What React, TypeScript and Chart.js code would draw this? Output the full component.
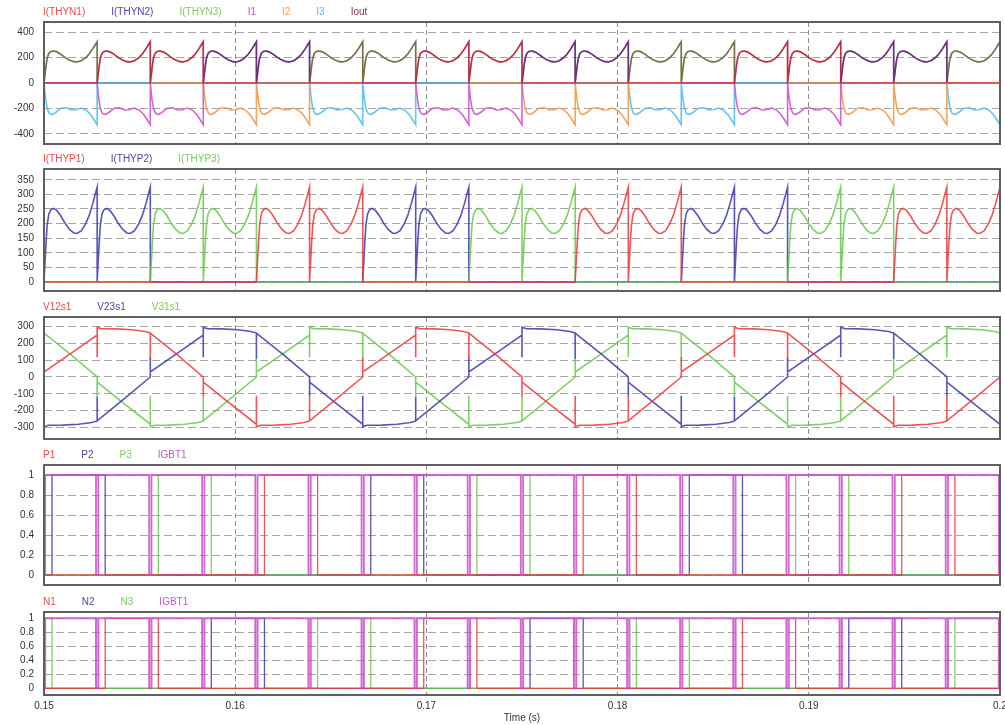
import React, { useEffect, useRef } from "react";
import { Chart, registerables } from "chart.js";

Chart.register(...registerables);

// ---------------- data ----------------
const tStart = 0.15;
const tEnd = 0.2;
const timeTicks = [0.15, 0.16, 0.17, 0.18, 0.19, 0.2];

// commutation instants (s) – edges of the 60° current humps
const commutations = [
  0.15, 0.15278, 0.15556, 0.15833, 0.16111, 0.16389, 0.16667, 0.16944, 0.17222, 0.175,
  0.17778, 0.18056, 0.18333, 0.18611, 0.18889, 0.19167, 0.19444, 0.19722, 0.2,
];

// shape of one positive current hump (fraction of interval -> A)
const humpFrac = [0, 0.02, 0.04, 0.06, 0.09, 0.13, 0.18, 0.24, 0.32, 0.4, 0.48, 0.56, 0.62, 0.7, 0.78, 0.85, 0.92, 0.97, 1];
const humpPos = [0, 70, 140, 195, 232, 248, 252, 245, 225, 200, 180, 168, 166, 175, 198, 228, 270, 305, 325];
// shape of one negative phase-current hump
const negFrac = [0, 0.03, 0.06, 0.1, 0.15, 0.22, 0.32, 0.42, 0.52, 0.6, 0.7, 0.8, 0.88, 0.95, 1];
const humpNeg = [0, -120, -200, -240, -248, -232, -198, -195, -212, -210, -197, -215, -250, -295, -328];
const zeroFrac = [0, 1];
const zeroVal = [0, 0];

// per-interval state: 1 = positive hump, -1 = negative hump, 0 = zero, null = hidden
const thyn1State = [0, 1, 1, 0, 0, 0, 0, 1, 1, 0, 0, 0, 0, 1, 1, 0, 0, 0];
const thyn2State = [0, 0, 0, 1, 1, 0, 0, 0, 0, 1, 1, 0, 0, 0, 0, 1, 1, 0];
const thyn3State = [1, 0, 0, 0, 0, 1, 1, 0, 0, 0, 0, 1, 1, 0, 0, 0, 0, 1];
const i1State = [0, -1, -1, 0, null, null, 0, -1, -1, 0, null, null, 0, -1, -1, 0, null, null];
const i2State = [null, null, 0, -1, -1, 0, null, null, 0, -1, -1, 0, null, null, 0, -1, -1, 0];
const i3State = [-1, 0, null, null, 0, -1, -1, 0, null, null, 0, -1, -1, 0, null, null, 0, -1];
const ioutState = [1, 1, 1, 1, 1, 1, 1, 1, 1, 1, 1, 1, 1, 1, 1, 1, 1, 1];
const thyp1State = [0, 0, 0, 0, 1, 1, 0, 0, 0, 0, 1, 1, 0, 0, 0, 0, 1, 1];
const thyp2State = [1, 1, 0, 0, 0, 0, 1, 1, 0, 0, 0, 0, 1, 1, 0, 0, 0, 0];
const thyp3State = [0, 0, 1, 1, 0, 0, 0, 0, 1, 1, 0, 0, 0, 0, 1, 1, 0, 0];
const thyn1Start = 330;
const thyp1Start = 330;

// one cycle of a line voltage (phase in 60° intervals from the flat-top start -> V)
const vCyclePhase = [0, 0, 0, 0.08, 0.35, 0.65, 0.9, 1, 1, 1, 1.5, 2, 2, 2, 2.5, 3, 3, 3, 3.08, 3.35, 3.65, 3.9, 4, 4, 4, 4.5, 5, 5, 5, 5.5];
const vCycleValue = [250, 118, 297, 288, 287, 282, 272, 262, 110, 262, 135, 0, -118, -30, -158, -282, -112, -297, -288, -287, -282, -272, -262, -118, -262, -132, 0, 118, 30, 140];
// interval index at which each line voltage starts its flat top
const v12FlatTop = 1;
const v23FlatTop = 3;
const v31FlatTop = 5;

// gate pulses [on, off] (s)
const p1Pulses = [[0.16153, 0.16431], [0.1782, 0.18098], [0.19486, 0.19764]];
const p2Pulses = [[0.15042, 0.1532], [0.16709, 0.16986], [0.18375, 0.18653]];
const p3Pulses = [[0.15598, 0.15875], [0.17264, 0.17542], [0.18931, 0.19209]];
const n1Pulses = [[0.1532, 0.15598], [0.16986, 0.17264], [0.18653, 0.18931]];
const n2Pulses = [[0.15875, 0.16153], [0.17542, 0.1782], [0.19209, 0.19486]];
const n3Pulses = [[0.15, 0.15042], [0.16431, 0.16709], [0.18098, 0.18375], [0.19764, 0.2]];
const igbtOffWidth = 0.00012;

const ticksI = [-400, -200, 0, 200, 400];
const ticksThyp = [0, 50, 100, 150, 200, 250, 300, 350];
const ticksV = [-300, -200, -100, 0, 100, 200, 300];
const ticksGate = [0, 0.2, 0.4, 0.6, 0.8, 1];

// ---------------- builders ----------------
type Pt = { x: number; y: number | null };

function humpSeries(states: (number | null)[], startValue?: number): Pt[] {
  const pts: Pt[] = [];
  if (startValue !== undefined) pts.push({ x: commutations[0], y: startValue });
  states.forEach((s, j) => {
    const t0 = commutations[j];
    const dt = commutations[j + 1] - t0;
    if (s === null) {
      pts.push({ x: t0, y: null });
      return;
    }
    const fr = s === 1 ? humpFrac : s === -1 ? negFrac : zeroFrac;
    const vs = s === 1 ? humpPos : s === -1 ? humpNeg : zeroVal;
    fr.forEach((f, k) => pts.push({ x: t0 + f * dt, y: vs[k] }));
  });
  return pts;
}

function voltageSeries(flatTopIndex: number): Pt[] {
  const pts: Pt[] = [];
  const n = commutations.length - 1;
  for (let j = 0; j < n; j++) {
    const p = (((j - flatTopIndex) % 6) + 6) % 6;
    const t0 = commutations[j];
    const dt = commutations[j + 1] - t0;
    vCyclePhase.forEach((ph, i) => {
      if (ph >= p && ph < p + 1) pts.push({ x: t0 + (ph - p) * dt, y: vCycleValue[i] });
    });
  }
  const pEnd = (((n - flatTopIndex) % 6) + 6) % 6;
  const iEnd = vCyclePhase.indexOf(pEnd);
  pts.push({ x: commutations[n], y: vCycleValue[iEnd] });
  return pts;
}

function stepSeries(pulses: number[][], base: number, level: number): Pt[] {
  const pts: Pt[] = [{ x: tStart, y: base }];
  pulses.forEach(([on, off]) => {
    const a = Math.max(tStart, on);
    const b = Math.min(tEnd, off);
    pts.push({ x: a, y: base }, { x: a, y: level }, { x: b, y: level }, { x: b, y: base });
  });
  pts.push({ x: tEnd, y: base });
  return pts;
}

const igbtOff = commutations.map((c) => [c - igbtOffWidth / 2, c + igbtOffWidth / 2]);

// ---------------- styles ----------------
const FONT = "'Liberation Sans', Arial, Helvetica, sans-serif";
const RED = "rgba(235,55,60,0.85)";
const BLUE = "rgba(60,55,175,0.85)";
const GREEN = "rgba(105,200,75,0.85)";
const MAGENTA = "rgba(205,75,200,0.85)";
const ORANGE = "rgba(242,155,75,0.9)";
const CYAN = "rgba(85,190,235,0.9)";
const MAROON = "rgba(130,25,60,0.55)";
const L_RED = "#e84a4a";
const L_BLUE = "#4d46a8";
const L_GREEN = "#7cc95e";
const L_MAGENTA = "#c556c2";
const L_ORANGE = "#ef9f5a";
const L_CYAN = "#5cbbe4";
const L_MAROON = "#8b2d4a";

type DS = { label: string; data: Pt[]; color: string; legendColor: string; order: number; width?: number };
type Panel = { top: number; height: number; showX: boolean; yMin: number; yMax: number; yTicks: number[]; datasets: DS[] };

const panels: Panel[] = [
  {
    top: -14, height: 160, showX: false, yMin: -480, yMax: 480, yTicks: ticksI,
    datasets: [
      { label: "I(THYN1)", data: humpSeries(thyn1State, thyn1Start), color: RED, legendColor: L_RED, order: 1 },
      { label: "I(THYN2)", data: humpSeries(thyn2State), color: BLUE, legendColor: L_BLUE, order: 3 },
      { label: "I(THYN3)", data: humpSeries(thyn3State), color: GREEN, legendColor: L_GREEN, order: 4 },
      { label: "I1", data: humpSeries(i1State), color: MAGENTA, legendColor: L_MAGENTA, order: 2 },
      { label: "I2", data: humpSeries(i2State), color: ORANGE, legendColor: L_ORANGE, order: 2 },
      { label: "I3", data: humpSeries(i3State), color: CYAN, legendColor: L_CYAN, order: 2 },
      { label: "Iout", data: humpSeries(ioutState), color: MAROON, legendColor: L_MAROON, order: 0 },
    ],
  },
  {
    top: 133, height: 160, showX: false, yMin: -31, yMax: 387, yTicks: ticksThyp,
    datasets: [
      { label: "I(THYP1)", data: humpSeries(thyp1State, thyp1Start), color: RED, legendColor: L_RED, order: 0 },
      { label: "I(THYP2)", data: humpSeries(thyp2State), color: BLUE, legendColor: L_BLUE, order: 2 },
      { label: "I(THYP3)", data: humpSeries(thyp3State), color: GREEN, legendColor: L_GREEN, order: 1 },
    ],
  },
  {
    top: 281, height: 160, showX: false, yMin: -370, yMax: 358, yTicks: ticksV,
    datasets: [
      { label: "V12s1", data: voltageSeries(v12FlatTop), color: RED, legendColor: L_RED, order: 0 },
      { label: "V23s1", data: voltageSeries(v23FlatTop), color: BLUE, legendColor: L_BLUE, order: 1 },
      { label: "V31s1", data: voltageSeries(v31FlatTop), color: GREEN, legendColor: L_GREEN, order: 2 },
    ],
  },
  {
    top: 429, height: 158, showX: false, yMin: -0.1, yMax: 1.1, yTicks: ticksGate,
    datasets: [
      { label: "P1", data: stepSeries(p1Pulses, 0, 1), color: RED, legendColor: L_RED, order: 1, width: 1.3 },
      { label: "P2", data: stepSeries(p2Pulses, 0, 1), color: BLUE, legendColor: L_BLUE, order: 3, width: 1.3 },
      { label: "P3", data: stepSeries(p3Pulses, 0, 1), color: GREEN, legendColor: L_GREEN, order: 2, width: 1.3 },
      { label: "IGBT1", data: stepSeries(igbtOff, 1, 0), color: MAGENTA, legendColor: L_MAGENTA, order: 0, width: 1.8 },
    ],
  },
  {
    top: 576, height: 149, showX: true, yMin: -0.095, yMax: 1.09, yTicks: ticksGate,
    datasets: [
      { label: "N1", data: stepSeries(n1Pulses, 0, 1), color: RED, legendColor: L_RED, order: 1, width: 1.3 },
      { label: "N2", data: stepSeries(n2Pulses, 0, 1), color: BLUE, legendColor: L_BLUE, order: 3, width: 1.3 },
      { label: "N3", data: stepSeries(n3Pulses, 0, 1), color: GREEN, legendColor: L_GREEN, order: 2, width: 1.3 },
      { label: "IGBT1", data: stepSeries(igbtOff, 1, 0), color: MAGENTA, legendColor: L_MAGENTA, order: 0, width: 2 },
    ],
  },
];

const LEGEND_SHIFT = 17;

const framePlugin = {
  id: "frame",
  afterLayout(chart: any) {
    if (chart.legend) chart.legend.left += LEGEND_SHIFT;
  },
  afterDatasetsDraw(chart: any) {
    const { ctx, chartArea: a } = chart;
    ctx.save();
    ctx.setLineDash([]);
    ctx.strokeStyle = "#5f5f5f";
    ctx.lineWidth = 2;
    ctx.strokeRect(a.left, a.top, a.right - a.left, a.bottom - a.top);
    ctx.restore();
  },
};

function buildConfig(p: Panel): any {
  return {
    type: "line",
    data: {
      datasets: p.datasets.map((d) => ({
        label: d.label,
        data: d.data,
        borderColor: d.color,
        backgroundColor: d.color,
        borderWidth: d.width ?? 1.6,
        pointRadius: 0,
        tension: 0,
        fill: false,
        spanGaps: false,
        order: d.order,
        legendColor: d.legendColor,
      })),
    },
    options: {
      responsive: false,
      animation: false,
      devicePixelRatio: 1,
      events: [],
      layout: { padding: { top: 0, left: 0, right: 5, bottom: p.showX ? 0 : 2 } },
      plugins: {
        tooltip: { enabled: false },
        legend: {
          display: true,
          position: "top",
          align: "start",
          maxHeight: 36,
          labels: {
            boxWidth: 0,
            boxHeight: 0,
            padding: 21,
            font: { family: FONT, size: 10 },
            generateLabels: (chart: any) =>
              chart.data.datasets.map((d: any, i: number) => ({
                text: d.label,
                fontColor: d.legendColor,
                fillStyle: "rgba(0,0,0,0)",
                strokeStyle: "rgba(0,0,0,0)",
                lineWidth: 0,
                hidden: false,
                datasetIndex: i,
              })),
          },
        },
      },
      scales: {
        x: {
          type: "linear",
          min: tStart,
          max: tEnd,
          afterBuildTicks: (s: any) => {
            s.ticks = timeTicks.map((v) => ({ value: v }));
          },
          afterFit: (s: any) => {
            s.height = p.showX ? 30 : 0;
            s.paddingLeft = 0;
            s.paddingRight = 0;
          },
          grid: { color: "#8c8c8c", lineWidth: 1, drawTicks: false },
          border: { display: false, dash: [5, 3] },
          ticks: {
            display: p.showX,
            padding: 5,
            maxRotation: 0,
            autoSkip: false,
            font: { family: FONT, size: 10 },
            color: "#333",
            callback: (v: any) => String(v),
          },
          title: {
            display: p.showX,
            text: "Time (s)",
            font: { family: FONT, size: 10 },
            color: "#333",
            padding: { top: 0, bottom: 1 },
          },
        },
        y: {
          type: "linear",
          min: p.yMin,
          max: p.yMax,
          afterBuildTicks: (s: any) => {
            s.ticks = p.yTicks.map((v) => ({ value: v }));
          },
          afterFit: (s: any) => {
            s.width = 44;
            s.paddingTop = 0;
            s.paddingBottom = 0;
          },
          grid: { color: "#a5a5a5", lineWidth: 1, drawTicks: false },
          border: { display: false, dash: [8, 4] },
          ticks: {
            padding: 10,
            font: { family: FONT, size: 10 },
            color: "#333",
            callback: (v: any) => String(v),
          },
        },
      },
    },
    plugins: [framePlugin],
  };
}

export default function App() {
  const refs = useRef<(HTMLCanvasElement | null)[]>([]);
  useEffect(() => {
    const charts = panels.map((p, i) => new Chart(refs.current[i] as HTMLCanvasElement, buildConfig(p)));
    return () => charts.forEach((c) => c.destroy());
  }, []);
  return (
    <div style={{ position: "absolute", left: 0, top: 0, width: 1005, height: 725, overflow: "hidden", background: "#fff" }}>
      {panels.map((p, i) => (
        <canvas
          key={i}
          ref={(el) => {
            refs.current[i] = el;
          }}
          width={1005}
          height={p.height}
          style={{ position: "absolute", left: 0, top: p.top, width: 1005, height: p.height }}
        />
      ))}
    </div>
  );
}
